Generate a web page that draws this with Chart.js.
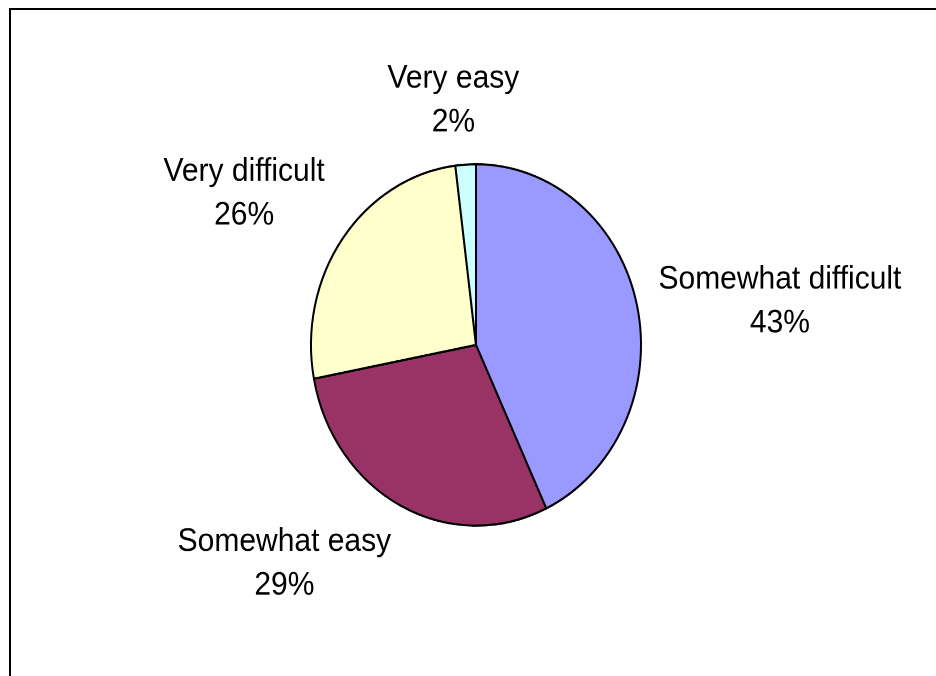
<!DOCTYPE html>
<html>
<head>
<meta charset="utf-8">
<title>Pie chart</title>
<script src="https://cdn.jsdelivr.net/npm/chart.js@4.4.1/dist/chart.umd.min.js"></script>
<style>
  html, body { margin: 0; padding: 0; background: #fff; overflow: hidden; }
  #frame {
    position: absolute; left: 9px; top: 8px; width: 1000px; height: 800px;
    border-left: 2px solid #000; border-top: 2px solid #000;
  }
  /* the original picture is stretched vertically, so the pie is an ellipse */
  #wrap {
    position: absolute; left: 0; top: 0; width: 936px; height: 617px;
    transform: scaleY(1.095); transform-origin: 0 0;
  }
</style>
</head>
<body>
<div id="frame"></div>
<div id="wrap"><canvas id="chart"></canvas></div>
<script>
/* ---------------- data ---------------- */
const categories = ["Somewhat difficult", "Somewhat easy", "Very difficult", "Very easy"];
const shares = [43, 29, 26, 2];
const sliceColors = ["#9999FF", "#993366", "#FFFFCC", "#CCFFFF"];

const total = shares.reduce((a, b) => a + b, 0);
const percentText = shares.map((v) => Math.round((v / total) * 100) + "%");

/* ---------------- outside-end labels, Excel style ---------------- */
const FONT = "30px 'Liberation Sans', Arial, sans-serif";
const GAP = 22;        // distance from the rim to the label box
const EDGE_GAP = 10;   // extra room when the box sits centred above/below the rim
const HALF_H = 30.65;  // half the ink height of a two-line label
const LINE = 40;

function frac(v, lo, hi) {
  const t = Math.min(1, Math.max(0, (Math.abs(v) - lo) / (hi - lo)));
  return Math.sign(v) * t;
}

const outsideLabels = {
  id: "outsideLabels",
  afterDatasetsDraw(chart) {
    const ctx = chart.ctx;
    const meta = chart.getDatasetMeta(0);
    ctx.save();
    ctx.font = FONT;
    ctx.fillStyle = "#000";
    ctx.textAlign = "center";
    ctx.textBaseline = "alphabetic";
    meta.data.forEach((arc, i) => {
      const { x, y, startAngle, endAngle, outerRadius } =
        arc.getProps(["x", "y", "startAngle", "endAngle", "outerRadius"], true);
      const mid = (startAngle + endAngle) / 2;
      const dx = Math.cos(mid), dy = Math.sin(mid);
      const fx = frac(dx, 0, 0.4), fy = frac(dy, 0.2, 0.55);
      const dist = outerRadius + GAP + EDGE_GAP * (1 - Math.abs(fx));
      const px = x + dx * dist;
      const py = y + dy * dist;
      const lines = [categories[i], percentText[i]];
      const halfW = Math.max(...lines.map((t) => ctx.measureText(t).width)) / 2;
      const cx = px + fx * halfW;
      const cy = py + fy * HALF_H;
      ctx.fillText(lines[0], cx, cy + HALF_H - LINE);
      ctx.fillText(lines[1], cx, cy + HALF_H);
    });
    ctx.restore();
  },
};

/* ---------------- chart ---------------- */
new Chart(document.getElementById("chart"), {
  type: "pie",
  data: {
    labels: categories,
    datasets: [{
      data: shares,
      backgroundColor: sliceColors,
      borderColor: "#000",
      borderWidth: 2,
      hoverOffset: 0,
    }],
  },
  options: {
    responsive: true,
    maintainAspectRatio: false,
    devicePixelRatio: 2,
    animation: false,
    radius: 165,
    layout: { padding: { left: 16, top: 13, right: 0, bottom: 0 } },
    plugins: {
      legend: { display: false },
      tooltip: { enabled: false },
    },
  },
  plugins: [outsideLabels],
});
</script>
</body>
</html>
